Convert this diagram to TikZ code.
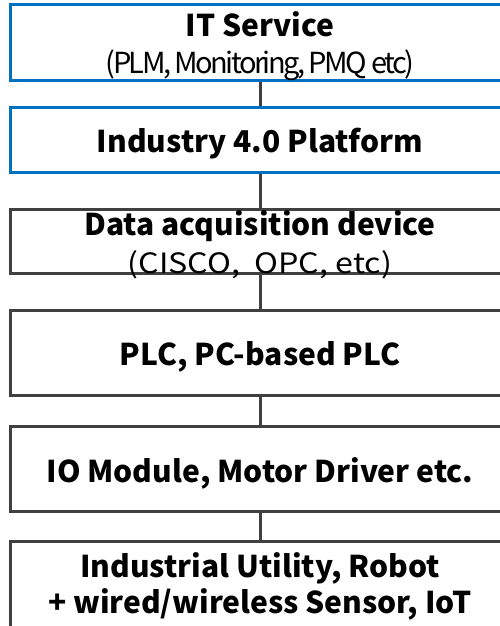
\documentclass[tikz,border=0pt]{standalone}
\usepackage{fontspec}
\setmainfont{Noto Sans CJK KR}
\newfontfamily\tightfont[LetterSpace=-9]{Noto Sans CJK KR}
\newfontfamily\widefont[FakeStretch=1.15]{Noto Sans CJK KR}
\definecolor{boxblue}{HTML}{0070C0}
\definecolor{boxgray}{HTML}{404040}
\tikzset{
  layerbox/.style={draw, line width=3pt, rectangle, minimum width=500pt, inner sep=0pt, fill=white},
  bluebox/.style={layerbox, draw=boxblue},
  graybox/.style={layerbox, draw=boxgray},
  headtxt/.style={anchor=base, inner sep=0pt, font=\fontsize{30}{31}\selectfont\bfseries},
  tighttxt/.style={anchor=base, inner sep=0pt, font=\fontsize{29}{30}\selectfont\tightfont},
  widetxt/.style={anchor=base, inner sep=0pt, font=\fontsize{28}{29}\selectfont\widefont},
  link/.style={draw=boxgray, line width=3pt}
}
\begin{document}
\begin{tikzpicture}[x=1pt, y=-1pt]
	\useasboundingbox (0,0) rectangle (500,626);
	% layer boxes
	\node[bluebox, minimum height=76pt] (it) at (260,42.5) {};
	\node[bluebox, minimum height=64.5pt] (plat) at (260,139.75) {};
	\node[graybox, minimum height=64pt] (daq) at (260,241.5) {};
	\node[graybox, minimum height=85pt] (plc) at (260,353) {};
	\node[graybox, minimum height=85.5pt] (io) at (260,468.75) {};
	\node[graybox, minimum height=110pt] (util) at (260,596.5) {};
	% connectors
	\draw[link] (it.south) -- (plat.north);
	\draw[link] (plat.south) -- (daq.north);
	\draw[link] (daq.south) -- (plc.north);
	\draw[link] (plc.south) -- (io.north);
	\draw[link] (io.south) -- (util.north);
	% texts
	\node[headtxt] (it-a) at (260,37) {IT Service};
	\node[tighttxt] (it-b) at (260,74) {(PLM, Monitoring, PMQ etc)};
	\node[headtxt] (plat-a) at (260,152) {Industry 4.0 Platform};
	\node[headtxt] (daq-a) at (260,235) {Data acquisition device};
	\node[widetxt] (daq-b) at (260,273) {(CISCO,\ \ OPC, etc)};
	\node[headtxt] (plc-a) at (260,365) {PLC, PC-based PLC};
	\node[headtxt] (io-a) at (260,482) {IO Module, Motor Driver etc.};
	\node[headtxt] (util-a) at (260,577) {Industrial Utility, Robot};
	\node[headtxt] (util-b) at (260,613) {+ wired/wireless Sensor, IoT};
\end{tikzpicture}
\end{document}
